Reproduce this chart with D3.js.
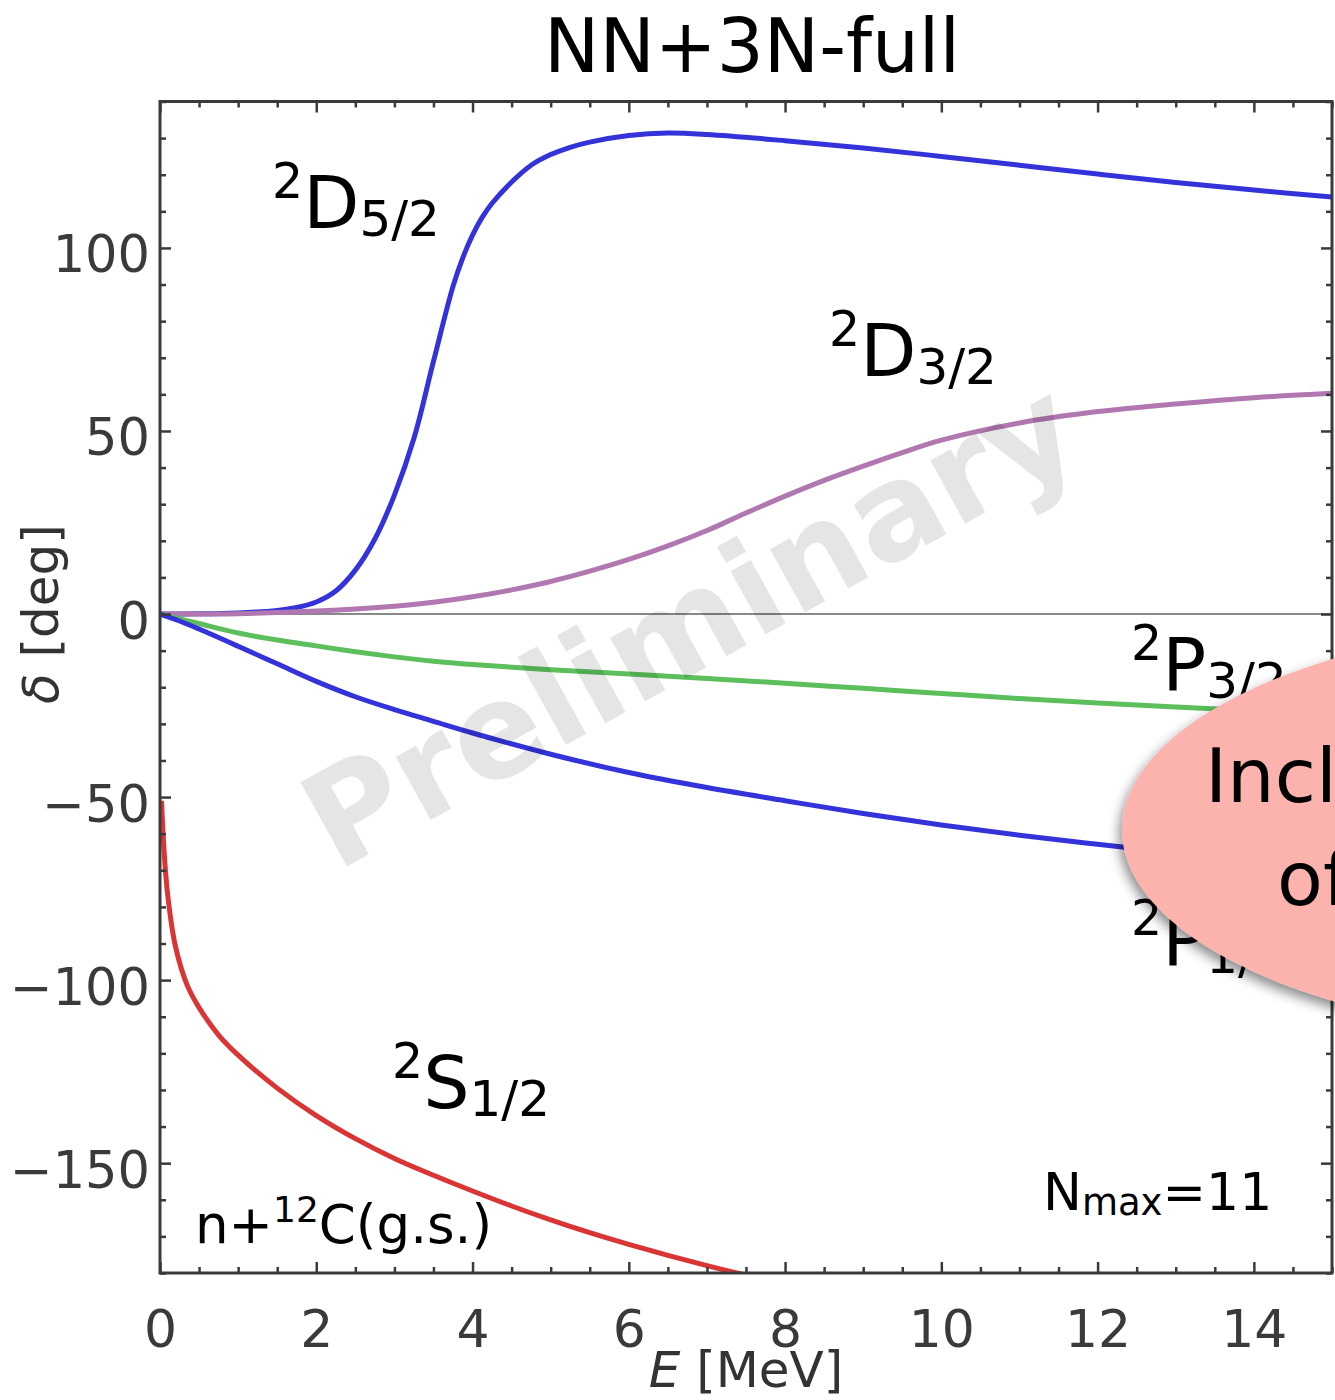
<!DOCTYPE html>
<html>
<head>
<meta charset="utf-8">
<script src="https://cdn.jsdelivr.net/npm/d3@7/dist/d3.min.js"></script>
<style>
  html, body { margin: 0; padding: 0; background: #fff; }
  svg { display: block; font-family: "DejaVu Sans", sans-serif; }
</style>
</head>
<body>
<svg id="chart" width="1335" height="1400"></svg>
<script>
// n + 12C phase shifts, NN+3N-full, Nmax = 11
const energyD52 = [0, 0.5, 1, 1.5, 1.75, 2, 2.25, 2.5, 2.75, 3, 3.25, 3.5, 3.75, 3.875, 4, 4.125, 4.25, 4.5, 4.75, 5, 5.25, 5.5, 6, 6.5, 7, 8, 9, 10, 11, 12, 13, 14, 15];
const phaseD52  = [0, 0.05, 0.3, 1.0, 1.8, 3.3, 6.3, 12, 20.5, 32.5, 48, 69, 89.5, 97.3, 103.5, 108.4, 112.2, 118, 122.6, 125.5, 127.5, 128.9, 130.7, 131.4, 131, 129.3, 127.3, 125, 122.6, 120.2, 117.9, 115.8, 113.9];

const energyD32 = [0, 1, 2, 3, 3.5, 4, 4.5, 5, 5.5, 6, 6.5, 7, 7.5, 8, 8.5, 9, 9.5, 10, 11, 12, 13, 14, 15];
const phaseD32  = [0, 0.1, 0.8, 2.1, 3.2, 4.7, 6.6, 8.9, 11.7, 14.9, 18.6, 22.8, 27.6, 32.2, 36.5, 40.4, 44.1, 47.5, 52.2, 55.3, 57.4, 59.1, 60.3];

const energyP32 = [0, 0.25, 0.5, 1, 1.5, 2, 2.5, 3, 3.5, 4, 5, 6, 7, 8, 9, 10, 11, 12, 13, 14, 15];
const phaseP32  = [0, -1.3, -2.6, -5.2, -7.1, -8.7, -10.3, -11.7, -12.9, -13.8, -15.2, -16.4, -17.6, -18.9, -20.3, -21.7, -23.1, -24.3, -25.4, -26.4, -27.3];

const energyP12 = [0, 0.25, 0.5, 1, 1.5, 2, 2.5, 3, 3.5, 4, 5, 6, 7, 8, 9, 10, 11, 12, 13, 14, 15];
const phaseP12  = [0, -1.9, -4.1, -8.8, -13.6, -18.4, -22.6, -26.1, -29.3, -32.5, -38.3, -43.3, -47.4, -51, -54.5, -57.6, -60.4, -62.9, -65.3, -67.6, -69.7];

const energyS12 = [0.02, 0.05, 0.1, 0.2, 0.35, 0.5, 0.75, 1, 1.5, 2, 2.5, 3, 3.5, 4, 4.5, 5, 5.5, 6, 6.5, 7, 7.5];
const phaseS12  = [-51, -64, -77, -91, -101.5, -107.5, -115, -120.5, -129.5, -137, -143.3, -148.7, -153.3, -157.6, -161.7, -165.5, -169, -172.2, -175.2, -178, -180.6];

const xTickValues = [0, 2, 4, 6, 8, 10, 12, 14];
const yTickValues = [-150, -100, -50, 0, 50, 100];

const series = [
  { name: "D52", E: energyD52, d: phaseD52, color: "#3333d9" },
  { name: "D32", E: energyD32, d: phaseD32, color: "#b077b0" },
  { name: "P32", E: energyP32, d: phaseP32, color: "#5cbf5c" },
  { name: "P12", E: energyP12, d: phaseP12, color: "#3333d9" },
  { name: "S12", E: energyS12, d: phaseS12, color: "#d93535" }
];

const svg = d3.select("#chart");
const frame = { left: 160, right: 1332, top: 101.5, bottom: 1273 };
const axisColor = "#3a3a3a";

const x = d3.scaleLinear().domain([0, 15]).range([frame.left, frame.right]);
const y = d3.scaleLinear().domain([-180, 140]).range([frame.bottom, frame.top]);

const defs = svg.append("defs");
defs.append("clipPath").attr("id", "plot-clip")
  .append("rect")
  .attr("x", frame.left).attr("y", frame.top)
  .attr("width", frame.right - frame.left).attr("height", frame.bottom - frame.top);

const shadow = defs.append("filter").attr("id", "bubble-shadow")
  .attr("x", "-20%").attr("y", "-20%").attr("width", "140%").attr("height", "140%");
shadow.append("feDropShadow")
  .attr("dx", -3).attr("dy", 6).attr("stdDeviation", 6)
  .attr("flood-color", "#000").attr("flood-opacity", 0.45);

// zero reference line
svg.append("line")
  .attr("x1", x(0)).attr("x2", x(15))
  .attr("y1", y(0)).attr("y2", y(0))
  .attr("stroke", "#888").attr("stroke-width", 2);

// phase-shift curves
const line = d3.line()
  .x(p => x(p[0]))
  .y(p => y(p[1]))
  .curve(d3.curveCatmullRom.alpha(0.5));

const curves = svg.append("g").attr("clip-path", "url(#plot-clip)");
series.forEach(s => {
  curves.append("path")
    .datum(s.E.map((e, i) => [e, s.d[i]]))
    .attr("d", line)
    .attr("fill", "none")
    .attr("stroke", s.color)
    .attr("stroke-width", 5)
    .attr("stroke-linejoin", "round");
});

// axes: ticks on all four sides pointing inward
const xMinor = d3.range(0, 15.001, 0.5).filter(v => v % 2 !== 0);
const yMinor = d3.range(-180, 140.001, 10).filter(v => v % 50 !== 0);

function styleAxis(g) {
  g.select(".domain").remove();
  g.selectAll(".tick line").attr("stroke", axisColor).attr("stroke-width", 2.5);
}

const gxb = svg.append("g").attr("transform", `translate(0,${frame.bottom})`);
gxb.append("g").call(d3.axisBottom(x).tickValues(xMinor).tickSize(-6).tickFormat("")).call(styleAxis);
const gxbMajor = gxb.append("g").call(d3.axisBottom(x).tickValues(xTickValues).tickSize(-11).tickFormat(d3.format("d"))).call(styleAxis);
gxbMajor.selectAll(".tick text")
  .attr("y", 74).attr("dy", 0)
  .attr("font-size", 52).attr("font-family", "DejaVu Sans")
  .attr("fill", axisColor);

const gxt = svg.append("g").attr("transform", `translate(0,${frame.top})`);
gxt.append("g").call(d3.axisTop(x).tickValues(xMinor).tickSize(-6).tickFormat("")).call(styleAxis);
gxt.append("g").call(d3.axisTop(x).tickValues(xTickValues).tickSize(-11).tickFormat("")).call(styleAxis);

const gyl = svg.append("g").attr("transform", `translate(${frame.left},0)`);
gyl.append("g").call(d3.axisLeft(y).tickValues(yMinor).tickSize(-6).tickFormat("")).call(styleAxis);
const gylMajor = gyl.append("g").call(d3.axisLeft(y).tickValues(yTickValues).tickSize(-11).tickFormat(d3.format("d"))).call(styleAxis);
gylMajor.selectAll(".tick text")
  .attr("x", -10).attr("y", 24).attr("dy", 0)
  .attr("text-anchor", "end")
  .attr("font-size", 51).attr("font-family", "DejaVu Sans")
  .attr("fill", axisColor);

const gyr = svg.append("g").attr("transform", `translate(${frame.right},0)`);
gyr.append("g").call(d3.axisRight(y).tickValues(yMinor).tickSize(-6).tickFormat("")).call(styleAxis);
gyr.append("g").call(d3.axisRight(y).tickValues(yTickValues).tickSize(-11).tickFormat("")).call(styleAxis);

// frame
svg.append("rect")
  .attr("x", frame.left).attr("y", frame.top)
  .attr("width", frame.right - frame.left).attr("height", frame.bottom - frame.top)
  .attr("fill", "none").attr("stroke", axisColor).attr("stroke-width", 3);

// title and axis labels
svg.append("text")
  .attr("x", 752).attr("y", 72)
  .attr("text-anchor", "middle")
  .attr("font-size", 74).attr("fill", "#000")
  .text("NN+3N-full");

const xLabel = svg.append("text")
  .attr("x", (frame.left + frame.right) / 2).attr("y", 1387)
  .attr("text-anchor", "middle")
  .attr("font-size", 50).attr("fill", "#333");
xLabel.append("tspan").attr("font-style", "italic").text("E");
xLabel.append("tspan").text(" [MeV]");

const yLabel = svg.append("text")
  .attr("transform", `translate(58,${y(0)}) rotate(-90)`)
  .attr("text-anchor", "middle")
  .attr("font-size", 50).attr("fill", "#333");
yLabel.append("tspan").attr("font-style", "italic").text("δ");
yLabel.append("tspan").text(" [deg]");

// partial-wave labels: ^{2S+1}L_J
function waveLabel(xPos, base, letter, j) {
  const t = svg.append("text").attr("x", xPos).attr("y", base).attr("fill", "#000");
  t.append("tspan").attr("font-size", 49).attr("dy", -30).text("2");
  t.append("tspan").attr("font-size", 73).attr("dy", 30).text(letter);
  t.append("tspan").attr("font-size", 50).attr("dy", 8).text(j);
}
waveLabel(272, 228, "D", "5/2");
waveLabel(829, 376, "D", "3/2");
waveLabel(1131, 690, "P", "3/2");
waveLabel(1131, 965, "P", "1/2");
waveLabel(392, 1108, "S", "1/2");

const sysLabel = svg.append("text").attr("x", 195).attr("y", 1243).attr("fill", "#000").attr("font-size", 53);
sysLabel.append("tspan").text("n+");
sysLabel.append("tspan").attr("font-size", 36).attr("dy", -21).text("12");
sysLabel.append("tspan").attr("dy", 21).text("C(g.s.)");

const nmaxLabel = svg.append("text").attr("x", 1043).attr("y", 1210).attr("fill", "#000").attr("font-size", 52);
nmaxLabel.append("tspan").text("N");
nmaxLabel.append("tspan").attr("font-size", 37).attr("dy", 5).text("max");
nmaxLabel.append("tspan").attr("dy", -5).text("=11");

// watermark
svg.append("text")
  .attr("transform", "translate(712,664) rotate(-29)")
  .attr("text-anchor", "middle")
  .attr("font-size", 132).attr("font-weight", "bold")
  .attr("fill", "#000").attr("fill-opacity", 0.1)
  .text("Preliminary");

// callout bubble
const bubble = svg.append("g");
bubble.append("ellipse")
  .attr("cx", 1630).attr("cy", 830).attr("rx", 508).attr("ry", 211)
  .attr("fill", "#fcb3ad")
  .attr("filter", "url(#bubble-shadow)");
bubble.append("text").attr("x", 1205).attr("y", 802)
  .attr("font-size", 75).attr("fill", "#000").text("Incl");
bubble.append("text").attr("x", 1277).attr("y", 905)
  .attr("font-size", 75).attr("fill", "#000").text("of");
</script>
</body>
</html>
